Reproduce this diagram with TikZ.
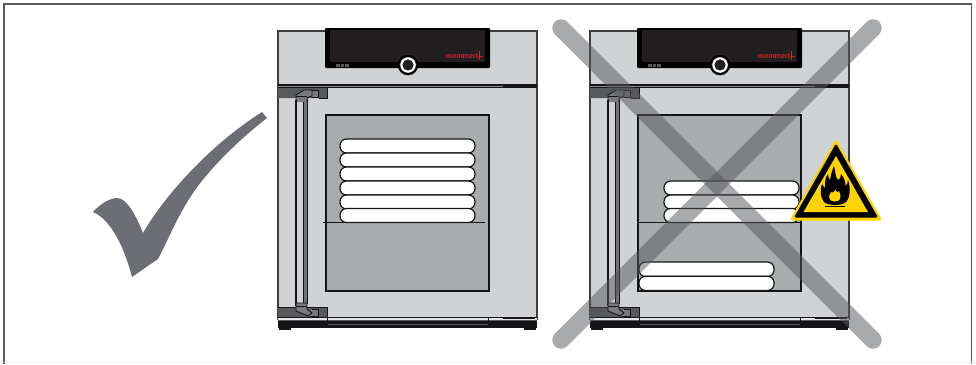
\documentclass[tikz,border=0pt]{standalone}
\usepackage{fontspec}
\setmainfont{Liberation Sans}
\definecolor{bodyg}{HTML}{D0D2D4}
\definecolor{winf}{HTML}{A8ACAC}
\definecolor{inkk}{HTML}{151517}
\definecolor{panelk}{HTML}{231F20}
\definecolor{hingeg}{HTML}{58595B}
\definecolor{checkg}{HTML}{6D6E73}
\definecolor{crossg}{HTML}{55565A}
\definecolor{signy}{HTML}{FFD400}
\definecolor{logor}{HTML}{C9252B}
\tikzset{
  loaf/.style={fill=white,draw=inkk,line width=1.2pt,rounded corners=6.5pt},
  crossbar/.style={draw=crossg,line width=17.5pt,line cap=round,opacity=.5},
  frameline/.style={draw=hingeg,line width=1.8pt},
}
\newcommand{\ovenbody}{%
  % body
  \fill[bodyg] (278,31) rectangle (537,320);
  \draw[draw=hingeg!70!black,line width=1.4pt] (278,320) -- (278,31) -- (537,31) -- (537,320);
  % window
  \fill[winf] (326,115) rectangle (489,291);
  % top bar
  \fill[inkk] (278,84.4) rectangle (537,85.6);
  \fill[hingeg!70] (278,85.6) rectangle (503,87.2);
  \fill[inkk] (327,87.2) rectangle (503,88.2);
  \fill[inkk] (503,85.5) rectangle (537,88.2);
  % top hinge
  \fill[hingeg,rounded corners=.6pt] (278,87) rectangle (327,98);
  \draw[inkk,line width=.8pt] (278,87) -- (327,87) -- (327,98) -- (319,98);
  \fill[hingeg!80] (296,98) -- (296,95) -- (304,90) -- (318,90) -- (318,97) -- (308,97) -- (308,102) -- (296,102) -- cycle;
  \draw[inkk,line width=.9pt] (296,102) -- (296,95) -- (304,90) -- (312,90) -- (312,96) -- (307,98) -- (307,102);
  \draw[inkk,line width=.8pt] (296,96) -- (307,96) (312,90) -- (318,90) -- (318,97) -- (312,97);
  % handle
  \fill[bodyg] (296,102) rectangle (303,304);
  \fill[hingeg!85] (303,102) rectangle (307,304);
  \draw[inkk,line width=1.2pt] (296,100) -- (296,306);
  \draw[inkk,line width=.7pt] (303,102) -- (303,304);
  \draw[inkk,line width=.9pt] (307,100) -- (307,304);
  % bottom hinge
  \fill[hingeg] (278,307) rectangle (327,318);
  \draw[inkk,line width=.8pt] (278,307) -- (296,307) (307,307) -- (327,307) -- (327,318);
  \fill[hingeg!80] (296,303) -- (307,303) -- (307,310) -- (318,309) -- (318,316) -- (308,316) -- (296,311) -- cycle;
  \draw[inkk,line width=.9pt] (296,303) -- (307,303) -- (307,309) -- (312,313) -- (308,316) -- (296,311) -- cycle;
  \draw[inkk,line width=.8pt] (296,306) -- (307,306) (312,309) -- (318,309) -- (318,316) -- (310,316);
  % base
  \fill[inkk] (278,316.8) rectangle (537,318);
  \fill[bodyg!60!white] (278,318) rectangle (537,320);
  \fill[inkk] (278,320) rectangle (537,328);
  \fill[hingeg] (278,320) rectangle (537,321);
  \fill[inkk] (279,328) rectangle (291,330);
  \fill[inkk] (524,328) rectangle (536,330);
  \fill[inkk] (503,316.5) rectangle (535,318.5);
  \draw[inkk,line width=.6pt] (327.5,318) -- (327.5,328);
  \draw[inkk,line width=.6pt] (488,318) -- (488,328);
  \fill[hingeg] (327.5,324) rectangle (488,325);
  % panel
  \fill[black,rounded corners=1pt] (325,28) rectangle (490,68);
  \fill[panelk] (330,30) rectangle (485,61.5);
  \fill[hingeg] (336,64) rectangle (349,67);
  \draw[black,line width=.7pt] (340.3,64) -- (340.3,67) (344.6,64) -- (344.6,67);
  % knob
  \fill[black] (408,65) circle (10.3);
  \fill[white] (408,65) circle (7.8);
  \fill[panelk] (408,65) circle (5.6);
  % logo
  \node[inner sep=0pt,anchor=east,text=logor,font=\bfseries\fontsize{7.2}{7.2}\selectfont] at (478.5,56.5) {memmert};
  \draw[logor,line width=1pt] (478,56) -- (483,56) (479.5,50.5) -- (479.5,59.5);
}
\newcommand{\ovenwindow}{%
  \draw[draw=inkk,line width=1.6pt] (326,115) rectangle (489,291);
}
\begin{document}
\begin{tikzpicture}[x=1pt,y=-1pt]
\useasboundingbox (0,0) rectangle (976,364);
\fill[white] (0,0) rectangle (976,364);
% frame
\draw[frameline] (4,364) -- (4,4) -- (971.5,4) -- (971.5,364);
\draw[gray!12,line width=.8pt] (4,362.5) -- (971.5,362.5);
% check mark
\fill[checkg] (262,112) -- (267,118)
  .. controls (232,145) and (205,175) .. (193,193)
  .. controls (178,215) and (168,240) .. (158,259)
  -- (132,277)
  .. controls (125,250) and (112,220) .. (93,212)
  .. controls (100,204) and (110,198) .. (117,198)
  .. controls (126,198) and (135,213) .. (143,233)
  .. controls (165,195) and (210,145) .. (262,112) -- cycle;
% left oven
\begin{scope}
  \ovenbody
  \foreach \y in {139,153,167,181,195,208.5} {
    \draw[loaf] (340,\y) rectangle (475,\y+14);
  }
  \draw[inkk,line width=1pt] (323,222.3) -- (485,222.3);
  \ovenwindow
\end{scope}
% right oven
\begin{scope}[xshift=312pt]
  \ovenbody
  \foreach \y in {181,195,208.5} {
    \draw[loaf] (352,\y) rectangle (487,\y+14);
  }
  \draw[inkk,line width=1pt] (326,222.3) -- (488,222.3);
  \draw[loaf] (327,262) rectangle (462,276.5);
  \draw[loaf] (327,276.2) rectangle (462,290.5);
  \ovenwindow
\end{scope}
% cross
\draw[crossbar] (561,28) -- (873,340);
\draw[crossbar] (873,28) -- (561,340);
% warning sign
\fill[signy,draw=signy,line width=1pt,line join=round,rounded corners=2pt] (836,140) -- (881.5,220) -- (790.5,220) -- cycle;
\fill[black,rounded corners=1.5pt] (836,143.5) -- (878,217.5) -- (794,217.5) -- cycle;
\fill[signy] (836,156) -- (868,212) -- (803.5,212) -- cycle;
% flame
\fill[black,even odd rule]
  (834,166)
  .. controls (836,173) and (835,177) .. (838,180)
  .. controls (840,179) and (841,177) .. (841,174)
  .. controls (845,179) and (846,183) .. (845,186)
  .. controls (847,185) and (848,183) .. (848,180)
  .. controls (851,188) and (850,198) .. (846,202)
  .. controls (842,206) and (828,206) .. (824,202)
  .. controls (820,197) and (820,189) .. (822,184)
  .. controls (823,186) and (824,187) .. (825,188)
  .. controls (825,182) and (825,178) .. (828,174)
  .. controls (828,177) and (829,179) .. (830,180)
  .. controls (831,175) and (832,170) .. (834,166) -- cycle
  (835.5,189)
  .. controls (836,192) and (838,193) .. (839,191)
  .. controls (841,195) and (841,198) .. (839.5,200)
  .. controls (837,202) and (832,202) .. (830,200)
  .. controls (828,198) and (829,195) .. (831,192)
  .. controls (832,193.5) and (834,192.5) .. (835.5,189) -- cycle;
\fill[black] (825,205.5) rectangle (845,207);
\end{tikzpicture}
\end{document}
